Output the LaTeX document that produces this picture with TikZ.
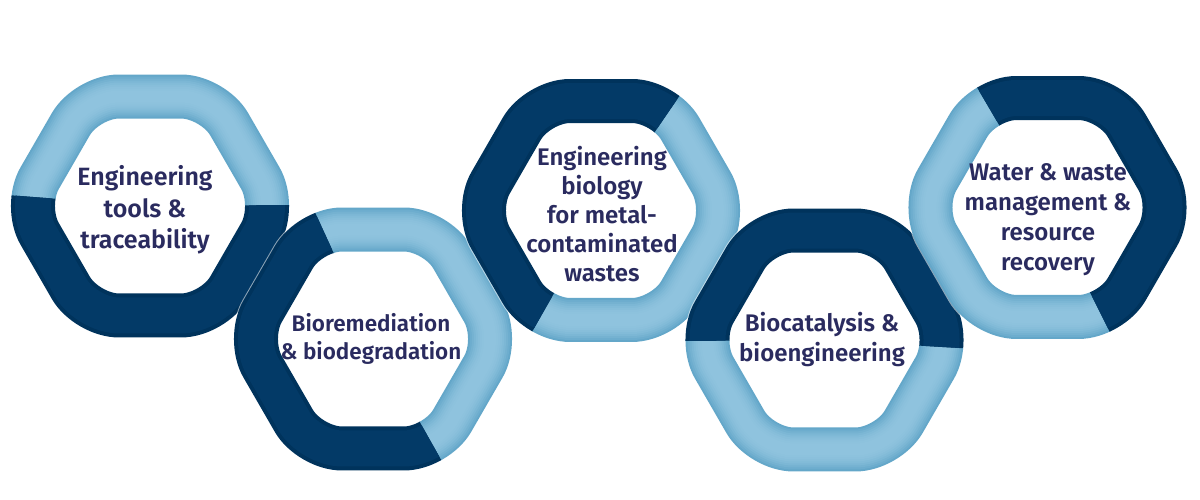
\documentclass[tikz,border=0pt]{standalone}
\usepackage{fontspec}
\setmainfont{Fira Sans}[UprightFont={* SemiBold}]
\definecolor{navy}{RGB}{3,58,103}
\definecolor{navyedge}{RGB}{0,51,92}
\definecolor{lbedge}{RGB}{100,167,201}
\definecolor{lbmid}{RGB}{143,195,222}
\definecolor{txt}{RGB}{42,43,95}
\def\Rm{126.4pt}
\def\Ap{109.5pt}
\newcommand\ringstroke[1]{%
  \draw[rounded corners=32pt,#1] (90:\Ap) -- (120:\Rm) -- (180:\Rm) -- (240:\Rm)
    -- (300:\Rm) -- (0:\Rm) -- (60:\Rm) -- cycle;}
% #1 name, #2 x, #3 y, #4 dark start, #5 dark end, #6 light end
\newcommand\hexring[6]{%
  \begin{scope}[shift={(#2,#3)}]
    \coordinate (#1) at (0,0);
    \ringstroke{line width=46pt, white, opacity=.55}
    \begin{scope}
      \clip (0,0) -- (#5:400pt) arc[start angle=#5, end angle=#6, radius=400pt] -- cycle;
      \foreach \w/\c in {44/0,40/22,36/40,32/56,28/70,24/81,20/90,16/96,12/100}
        {\ringstroke{line width=\w pt, draw=lbmid!\c!lbedge}}
    \end{scope}
    \begin{scope}
      \clip (0,0) -- ({#4-0.4}:400pt) arc[start angle={#4-0.4}, end angle={#5+0.4}, radius=400pt] -- cycle;
      \ringstroke{line width=44pt, draw=navyedge}
      \ringstroke{line width=36pt, draw=navy}
    \end{scope}
  \end{scope}}
\tikzset{lbl/.style={align=center, inner sep=0pt, text=txt,
  font=\fontsize{24}{30}\selectfont}}
\begin{document}
\begin{tikzpicture}[x=1pt,y=1pt]
\useasboundingbox (0,0) rectangle (1200,500);
\hexring{r1}{150}{294}{176}{360}{536}
\hexring{r2}{373}{161}{115}{299}{475}
\hexring{r3}{601}{289.5}{56}{240}{416}
\hexring{r4}{824.5}{160}{-3}{180}{357}
\hexring{r5}{1047.5}{292.5}{-63}{120}{297}
\node[lbl, font=\fontsize{25}{31.5}\selectfont] (t1) at (145,290) {Engineering\\tools \&\\traceability};
\node[lbl, font=\fontsize{22.5}{27.5}\selectfont] (t2) at (371,161) {Bioremediation\\\& biodegradation};
\node[lbl, font=\fontsize{24}{29}\selectfont] (t3) at (602,286) {Engineering\\biology\\for metal-\\contaminated\\wastes};
\node[lbl] (t4) at (822,160) {Biocatalysis \&\\bioengineering};
\node[lbl] (t5) at (1048,280) {Water \& waste\\management \&\\resource\\recovery};
\end{tikzpicture}
\end{document}
